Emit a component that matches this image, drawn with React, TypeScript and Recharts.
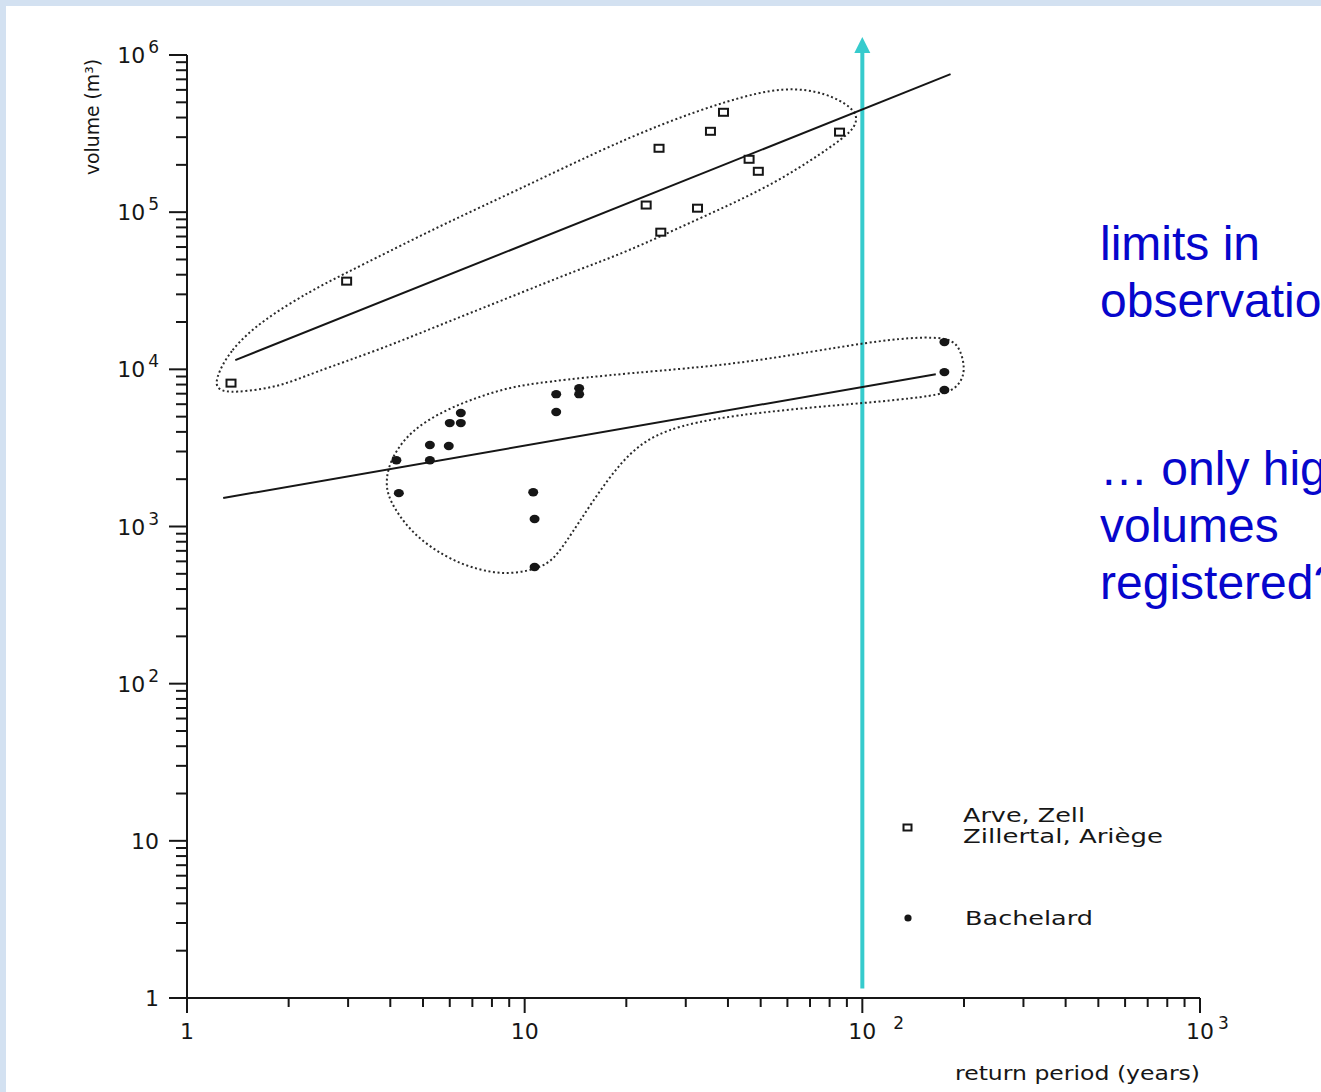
import React from "react";
import { Legend, ReferenceLine, Scatter, ScatterChart, XAxis, YAxis } from "recharts";

type Pt = [number, number];

// open squares: Arve, Zell, Zillertal, Ariège
const arveZell: Pt[] = [
  [1.35, 8170], [2.97, 36400], [22.9, 111000], [25.0, 255000], [25.3, 74600],
  [32.5, 106000], [35.5, 327000], [38.8, 432000], [46.2, 217000], [49.2, 182000], [85.6, 323000],
];

// filled dots: Bachelard
const bachelard: Pt[] = [
  [4.17, 2640], [4.24, 1630], [5.24, 3300], [5.24, 2640], [5.96, 3250], [6.0, 4550],
  [6.47, 4550], [6.47, 5270], [12.4, 6950], [12.4, 5350], [14.5, 7590], [14.5, 6950],
  [10.6, 1650], [10.7, 1115], [10.7, 552], [175, 14900], [175, 9600], [175, 7380],
];

// fitted lines
const arveFit: Pt[] = [[1.39, 11450], [182.5, 755000]];
const bachelardFit: Pt[] = [[1.28, 1517], [165, 9310]];

// dotted envelopes round each group
const arveHull: Pt[] = [
  [1.208, 8540], [1.338, 13250], [1.672, 20560], [2.344, 31900], [2.951, 40900], [3.868, 54800],
  [5.92, 86300], [9.51, 138000], [16.3, 241000], [25.7, 368000], [40.1, 515000], [59.0, 634000],
  [78.9, 571000], [92.9, 465000], [96.7, 402000], [94.8, 347000], [88.6, 300000], [70.8, 214000],
  [50.5, 138000], [32.1, 89000], [20.0, 55700], [14.3, 42800], [9.06, 28800], [5.8, 19700],
  [3.69, 13250], [2.344, 9460], [1.875, 7710], [1.365, 7060], [1.233, 7380],
];
const bachelardHull: Pt[] = [
  [3.868, 1973], [4.03, 2763], [4.61, 4100], [5.8, 5500], [7.25, 6650], [9.06, 7710],
  [11.4, 8300], [20.0, 9460], [45.0, 10800], [108.5, 15350], [177.7, 16500], [195, 13840],
  [202, 9890], [195, 8170], [182.5, 7160], [152, 6650], [108.5, 6180], [48.2, 5345],
  [28.0, 4420], [21.4, 3300], [17.5, 1973], [14.3, 1020], [12.5, 658], [11.4, 552],
  [9.06, 491], [7.25, 528], [5.8, 638], [4.61, 908], [3.95, 1472],
];

// observation limit arrow at T = 100 years
const limitX = 100;
const limitY: [number, number] = [1.15, 1300000];

const xMajor = [1, 10, 100, 1000];
const yMajor = [1, 10, 100, 1000, 10000, 100000, 1000000];
const minorSteps = [2, 3, 4, 5, 6, 7, 8, 9];

const xTickLabels = [
  { v: 1, base: "1" },
  { v: 10, base: "10" },
  { v: 100, base: "10", exp: "2", gap: 17 },
  { v: 1000, base: "10", exp: "3", gap: 4 },
];
const yTickLabels = [
  { v: 1, base: "1" },
  { v: 10, base: "10" },
  { v: 100, base: "10", exp: "2" },
  { v: 1000, base: "10", exp: "3" },
  { v: 10000, base: "10", exp: "4" },
  { v: 100000, base: "10", exp: "5" },
  { v: 1000000, base: "10", exp: "6" },
];

const withMinor = (majors: number[]) => [
  ...majors,
  ...majors.slice(0, -1).flatMap((d) => minorSteps.map((s) => s * d)),
].sort((a, b) => a - b);

const xTicks = withMinor(xMajor);
const yTicks = withMinor(yMajor);

const toRows = (pts: Pt[]) => pts.map(([x, y]) => ({ x, y }));

const INK = "#161616";
const CYAN = "#36cbcd";
const FONT = "'DejaVu Sans', 'Liberation Sans', Arial, sans-serif";

function XTick(props: any) {
  const { x, y, payload } = props;
  const lab = xTickLabels.find((l) => l.v === payload.value);
  return (
    <g>
      <line x1={x} x2={x} y1={y} y2={y + (lab ? 15 : 9)} stroke={INK} strokeWidth={2} />
      {lab && (
        <text x={x} y={y + 41} textAnchor="middle" fontSize={22} fill={INK} fontFamily={FONT}>
          {lab.base}
        </text>
      )}
      {lab && lab.exp && (
        <text x={x + 14 + (lab.gap || 0)} y={y + 31} fontSize={17} fill={INK} fontFamily={FONT}>
          {lab.exp}
        </text>
      )}
    </g>
  );
}

function YTick(props: any) {
  const { x, y, payload } = props;
  const lab = yTickLabels.find((l) => l.v === payload.value);
  return (
    <g>
      <line x1={x - (lab ? 18 : 11)} x2={x} y1={y} y2={y} stroke={INK} strokeWidth={2} />
      {lab && (
        <text x={x - 28} y={y + 8} textAnchor="end" fontSize={22} fill={INK} fontFamily={FONT}>
          {lab.base}
          {lab.exp && (
            <tspan dx={3} dy={-10} fontSize={17}>
              {lab.exp}
            </tspan>
          )}
        </text>
      )}
    </g>
  );
}

function Square(props: any) {
  const { cx, cy } = props;
  return <rect x={cx - 4.5} y={cy - 3.5} width={9} height={7} fill="#fff" stroke={INK} strokeWidth={2} />;
}

function Dot(props: any) {
  const { cx, cy } = props;
  return <ellipse cx={cx} cy={cy} rx={5} ry={4.2} fill={INK} />;
}

const NoShape = () => <g />;

function Arrow(props: any) {
  const { x1, y1, y2 } = props;
  const top = Math.min(y1, y2);
  const bottom = Math.max(y1, y2);
  return (
    <g>
      <line x1={x1} x2={x1} y1={bottom} y2={top + 14} stroke={CYAN} strokeWidth={4} />
      <polygon points={`${x1 - 8},${top + 16} ${x1 + 8},${top + 16} ${x1},${top}`} fill={CYAN} />
    </g>
  );
}

function LegendBox() {
  return (
    <svg width={320} height={140} style={{ display: "block" }}>
      <rect x={8.5} y={24.5} width={8} height={6} fill="#fff" stroke={INK} strokeWidth={2} />
      <text x={68} y={22} fontSize={19} fill={INK} fontFamily={FONT} textLength={122} lengthAdjust="spacingAndGlyphs">
        Arve, Zell
      </text>
      <text x={68} y={43} fontSize={19} fill={INK} fontFamily={FONT} textLength={200} lengthAdjust="spacingAndGlyphs">
        Zillertal, Ariège
      </text>
      <circle cx={13} cy={118} r={3.6} fill={INK} />
      <text x={70} y={125} fontSize={19} fill={INK} fontFamily={FONT} textLength={128} lengthAdjust="spacingAndGlyphs">
        Bachelard
      </text>
    </svg>
  );
}

const hullLine = { stroke: "#2a2a2a", strokeWidth: 2, strokeDasharray: "2 2.6" };
const fitLine = { stroke: INK, strokeWidth: 2 };

const noteStyle: React.CSSProperties = {
  position: "absolute",
  left: 1100,
  fontFamily: "'Liberation Sans', Arial, sans-serif",
  fontSize: 48,
  lineHeight: "57px",
  color: "#0606cc",
  whiteSpace: "nowrap",
};

export default function App() {
  return (
    <div
      style={{
        position: "absolute",
        left: 0,
        top: 0,
        width: 1321,
        height: 1092,
        overflow: "hidden",
        background: "#d3e1f1",
      }}
    >
      <div style={{ position: "absolute", left: 6, top: 6, right: 0, bottom: 0, background: "#fff" }} />
      <div style={{ position: "absolute", left: 0, top: 0 }}>
        <ScatterChart width={1321} height={1092} margin={{ top: 55, right: 121, bottom: 0, left: 0 }}>
          <XAxis
            type="number"
            dataKey="x"
            scale="log"
            domain={[1, 1000]}
            allowDataOverflow
            ticks={xTicks}
            interval={0}
            tickSize={0}
            tickMargin={0}
            tickLine={false}
            tick={<XTick />}
            height={94}
            axisLine={{ stroke: INK, strokeWidth: 2 }}
            label={{
              content: () => (
                <text x={1200} y={1080} textAnchor="end" fontSize={19} fill={INK} fontFamily={FONT}
                  textLength={245} lengthAdjust="spacingAndGlyphs">
                  return period (years)
                </text>
              ),
            }}
          />
          <YAxis
            type="number"
            dataKey="y"
            scale="log"
            domain={[1, 1000000]}
            allowDataOverflow
            ticks={yTicks}
            interval={0}
            tickSize={0}
            tickMargin={0}
            tickLine={false}
            tick={<YTick />}
            width={187}
            axisLine={{ stroke: INK, strokeWidth: 2 }}
            label={{
              content: () => (
                <text x={0} y={0} transform="translate(99,117) rotate(-90)" textAnchor="middle" fontSize={19}
                  fill={INK} fontFamily={FONT} textLength={116} lengthAdjust="spacingAndGlyphs">
                  volume (m³)
                </text>
              ),
            }}
          />
          <Legend layout="horizontal" verticalAlign="middle" align="center" content={<LegendBox />}
            wrapperStyle={{ left: 895, top: 800, width: 320, height: 140 }} />
          <Scatter name="arveHull" data={toRows(arveHull)} shape={NoShape} line={hullLine} lineType="joint"
            lineJointType="basisClosed" legendType="none" isAnimationActive={false} />
          <Scatter name="bachelardHull" data={toRows(bachelardHull)} shape={NoShape} line={hullLine} lineType="joint"
            lineJointType="basisClosed" legendType="none" isAnimationActive={false} />
          <Scatter name="arveFit" data={toRows(arveFit)} shape={NoShape} line={fitLine} lineType="joint"
            legendType="none" isAnimationActive={false} />
          <Scatter name="bachelardFit" data={toRows(bachelardFit)} shape={NoShape} line={fitLine} lineType="joint"
            legendType="none" isAnimationActive={false} />
          <Scatter name="Arve, Zell, Zillertal, Ariège" data={toRows(arveZell)} shape={Square} isAnimationActive={false} />
          <Scatter name="Bachelard" data={toRows(bachelard)} shape={Dot} isAnimationActive={false} />
          <ReferenceLine
            segment={[{ x: limitX, y: limitY[0] }, { x: limitX, y: limitY[1] }]}
            ifOverflow="visible"
            shape={<Arrow />}
          />
        </ScatterChart>
      </div>
      <div style={{ ...noteStyle, top: 215 }}>
        limits in
        <br />
        observations
      </div>
      <div style={{ ...noteStyle, top: 440 }}>
        … only higher
        <br />
        volumes
        <br />
        registered?
      </div>
    </div>
  );
}
